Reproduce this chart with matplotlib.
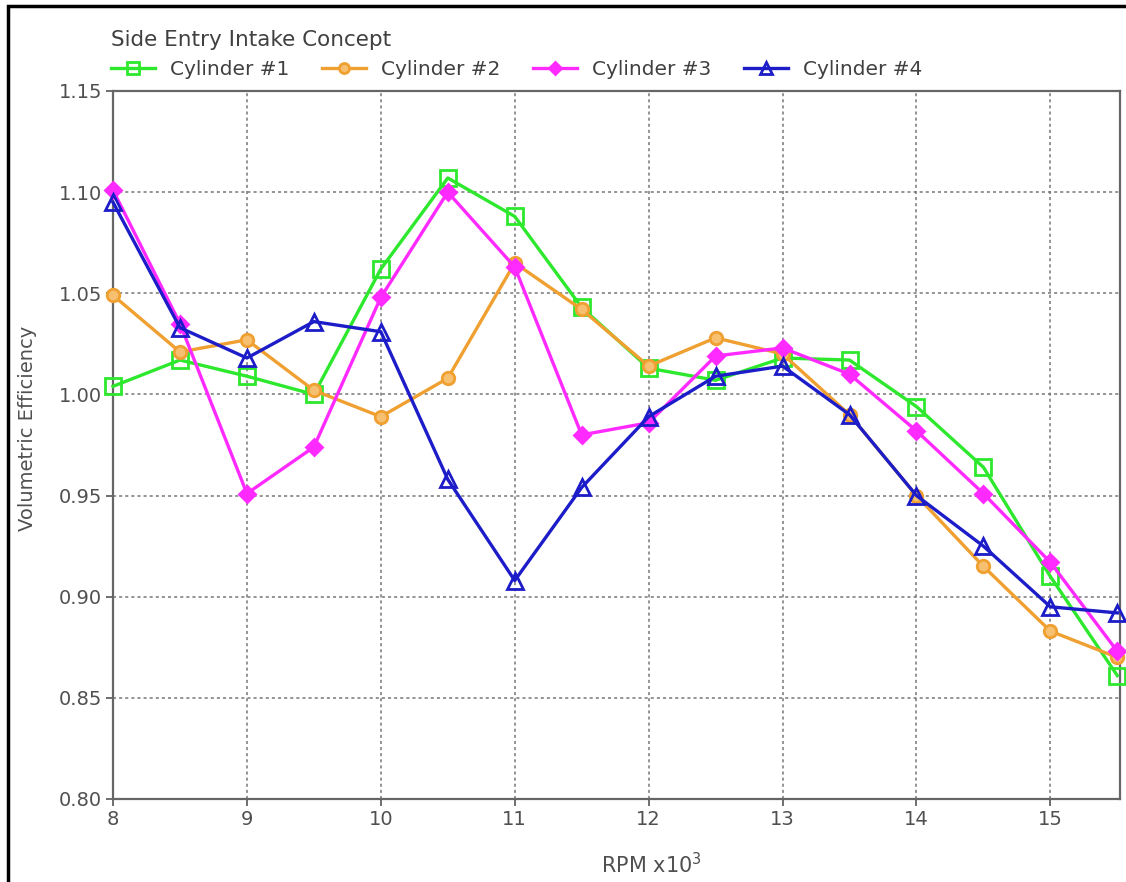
import numpy as np
import matplotlib
matplotlib.use("Agg")
import matplotlib.pyplot as plt
from matplotlib.patches import Rectangle

plt.rcParams['font.family'] = ['DejaVu Sans']

rpm = [8, 8.5, 9, 9.5, 10, 10.5, 11, 11.5, 12, 12.5, 13, 13.5, 14, 14.5, 15, 15.5]

cyl1 = [1.004, 1.017, 1.009, 1.000, 1.062, 1.107, 1.088, 1.043, 1.013, 1.007,
        1.018, 1.017, 0.994, 0.964, 0.910, 0.861]
cyl2 = [1.049, 1.021, 1.027, 1.002, 0.989, 1.008, 1.065, 1.042, 1.014, 1.028,
        1.020, 0.990, 0.950, 0.915, 0.883, 0.870]
cyl3 = [1.101, 1.035, 0.951, 0.974, 1.048, 1.100, 1.063, 0.980, 0.986, 1.019,
        1.023, 1.010, 0.982, 0.951, 0.917, 0.873]
cyl4 = [1.095, 1.033, 1.018, 1.036, 1.031, 0.958, 0.908, 0.954, 0.989, 1.009,
        1.014, 0.990, 0.950, 0.925, 0.895, 0.892]

labels = ['Cylinder #1', 'Cylinder #2', 'Cylinder #3', 'Cylinder #4']
colors = ['#2ee82e', '#f0a030', '#ff2aff', '#1c1cc8']
markers = ['s', 'o', 'D', '^']
fills = ['none', '#f6c070', '#ff2aff', 'none']
sizes = [11, 9, 8, 11]

xticks = [8, 9, 10, 11, 12, 13, 14, 15]
yticks = [0.80, 0.85, 0.90, 0.95, 1.00, 1.05, 1.10, 1.15]

W, H = 1126, 882
fig = plt.figure(figsize=(W / 100, H / 100), dpi=100)
ax = fig.add_axes([113 / W, 1 - 799 / H, (1120 - 113) / W, (799 - 91) / H])

for vals, lab, c, m, f, s in zip([cyl1, cyl2, cyl3, cyl4], labels, colors, markers, fills, sizes):
    ax.plot(rpm, vals, color=c, lw=2.4, marker=m, markersize=s,
            markerfacecolor=f, markeredgecolor=c, markeredgewidth=2,
            label=lab, clip_on=False, zorder=3)

ax.set_xlim(8, 15.52)
ax.set_ylim(0.80, 1.15)
ax.set_xticks(xticks)
ax.set_yticks(yticks)
ax.set_yticklabels(['%.2f' % v for v in yticks])
ax.tick_params(direction='out', length=5, width=1.2, color='#555555',
               labelsize=14, labelcolor='#505050', pad=3)
ax.grid(True, color='#777777', linestyle=(0, (2, 2)), lw=1.1)
for sp in ax.spines.values():
    sp.set_color('#666666')
    sp.set_linewidth(1.6)

fig.text(651 / W, 1 - 865 / H, 'RPM x10$^3$', fontsize=15, color='#505050',
         ha='center', va='center')
fig.text(28 / W, 1 - 428 / H, 'Volumetric Efficiency', fontsize=14,
         color='#505050', rotation=90, ha='center', va='center')

leg = ax.legend(loc='lower left', bbox_to_anchor=(-0.012, 1.003), ncol=4,
                frameon=False, fontsize=14.5, title='Side Entry Intake Concept',
                title_fontsize=15.5, handlelength=2.2, columnspacing=1.6,
                handletextpad=0.75, borderaxespad=0.1, markerscale=0.8,
                labelspacing=0.2)
leg._legend_box.align = 'left'
leg._legend_box.sep = 7
for t in leg.get_texts():
    t.set_color('#404040')
leg.get_title().set_color('#404040')

# outer frame around the picture
fig.patches.append(Rectangle((8 / W, -0.05), 1.2, 1 - 6 / H + 0.05,
                             transform=fig.transFigure, fill=False,
                             edgecolor='black', lw=2.5))

fig.savefig('out.png', dpi=100)
